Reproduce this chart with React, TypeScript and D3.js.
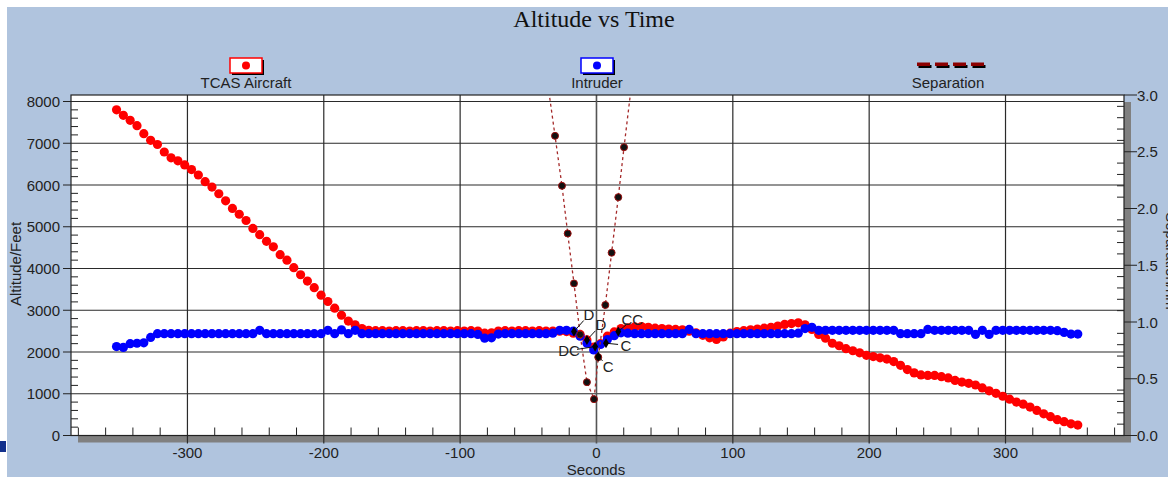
import React from "react";
import * as d3 from "d3";

// sample times (seconds) shared by both altitude tracks
const sampleTimes = [
  -352, -347, -342, -337, -332, -327, -322, -317, -312, -307,
  -302, -297, -292, -287, -282, -277, -272, -267, -262, -257,
  -252, -247, -242, -237, -232, -227, -222, -217, -212, -207,
  -202, -197, -192, -187, -182, -177, -172, -167, -162, -157,
  -152, -147, -142, -137, -132, -127, -122, -117, -112, -107,
  -102, -97, -92, -87, -82, -77, -72, -67, -62, -57,
  -52, -47, -42, -37, -32, -27, -22, -17, -12, -7,
  -2, 3, 8, 13, 18, 23, 28, 33, 38, 43,
  48, 53, 58, 63, 68, 73, 78, 83, 88, 93,
  98, 103, 108, 113, 118, 123, 128, 133, 138, 143,
  148, 153, 158, 163, 168, 173, 178, 183, 188, 193,
  198, 203, 208, 213, 218, 223, 228, 233, 238, 243,
  248, 253, 258, 263, 268, 273, 278, 283, 288, 293,
  298, 303, 308, 313, 318, 323, 328, 333, 338, 343,
  348, 353,
];

const tcasAlt = [
  7800, 7670, 7550, 7420, 7230, 7070, 6970, 6790, 6650, 6580,
  6480, 6370, 6240, 6080, 5950, 5790, 5620, 5440, 5300, 5150,
  4960, 4810, 4650, 4520, 4330, 4200, 4020, 3850, 3700, 3540,
  3360, 3210, 3050, 2880, 2740, 2650, 2560, 2520, 2510, 2510,
  2500, 2510, 2510, 2500, 2510, 2510, 2500, 2510, 2510, 2500,
  2510, 2500, 2510, 2500, 2450, 2460, 2500, 2510, 2500, 2510,
  2510, 2500, 2510, 2500, 2500, 2500, 2490, 2450, 2420, 2290,
  2120, 2200, 2380, 2480, 2560, 2580, 2600, 2610, 2590, 2570,
  2560, 2550, 2540, 2530, 2500, 2460, 2400, 2340, 2300, 2360,
  2450, 2490, 2510, 2530, 2550, 2570, 2590, 2620, 2660, 2680,
  2700, 2650, 2540, 2420, 2330, 2210, 2150, 2080, 2030, 1980,
  1920, 1890, 1860, 1830, 1770, 1680, 1580, 1500, 1450, 1440,
  1440, 1410, 1380, 1320, 1280, 1250, 1210, 1140, 1070, 1010,
  940, 870, 800, 750, 680, 600, 520, 450, 380, 330,
  280, 250,
];

const intruderAlt = [
  2130, 2110, 2200, 2210, 2220, 2350, 2440, 2440, 2440, 2440,
  2440, 2440, 2440, 2440, 2440, 2440, 2440, 2440, 2440, 2440,
  2440, 2520, 2440, 2440, 2440, 2440, 2440, 2440, 2440, 2440,
  2440, 2520, 2440, 2530, 2440, 2520, 2440, 2440, 2440, 2440,
  2440, 2440, 2440, 2440, 2440, 2440, 2440, 2440, 2440, 2440,
  2440, 2440, 2440, 2420, 2330, 2340, 2430, 2440, 2440, 2440,
  2440, 2440, 2440, 2440, 2450, 2520, 2520, 2500, 2380, 2210,
  2050, 2180, 2300, 2390, 2460, 2450, 2440, 2440, 2440, 2440,
  2440, 2440, 2440, 2440, 2540, 2440, 2440, 2440, 2440, 2440,
  2440, 2440, 2440, 2440, 2440, 2440, 2440, 2440, 2440, 2440,
  2450, 2560, 2590, 2520, 2520, 2520, 2520, 2520, 2520, 2520,
  2520, 2520, 2520, 2520, 2520, 2440, 2440, 2440, 2440, 2540,
  2520, 2520, 2520, 2520, 2520, 2520, 2420, 2520, 2420, 2520,
  2520, 2520, 2520, 2520, 2520, 2520, 2520, 2520, 2510, 2470,
  2430, 2430,
];

// horizontal separation (nm), right axis
const sepTimes = [-35.5, -30.4, -25.3, -21.1, -16.5, -12, -7, -1.8, 1.3, 6.5, 11.1, 16, 20.2, 25.2];
const sepValues = [3.08, 2.64, 2.2, 1.78, 1.34, 0.89, 0.47, 0.32, 0.69, 1.15, 1.61, 2.1, 2.54, 3.04];

// D / C markers placed on the tracks
const markTimes = [-16.5, -7, -1, 1.3, 7, 16];
const markAlts = [2490, 2290, 2130, 1890, 2210, 2490];
const markLabels = ["D", "D", "DC", "C", "C", "CC"];

const xTicks = [-300, -200, -100, 0, 100, 200, 300];
const altTicks = [0, 1000, 2000, 3000, 4000, 5000, 6000, 7000, 8000];
const sepTicks = [0, 0.5, 1, 1.5, 2, 2.5, 3];
const legendNames = ["TCAS Aircraft", "Intruder", "Separation"];

const W = 1168;
const H = 477;
const left = 71;
const right = 1124;
const top = 95;
const bottom = 435.5;
const sans = "'Liberation Sans', Arial, sans-serif";
const ink = "#222";

export default function App() {
  const x = d3.scaleLinear().domain([-385.4, 386.9]).range([left, right]);
  const yAlt = d3.scaleLinear().domain([0, 8000]).range([bottom, 101.5]);
  const ySep = d3.scaleLinear().domain([0, 3]).range([bottom, top]);

  const minorX = d3.range(-380, 381, 20).filter((v) => v % 100 !== 0);
  const minorAlt = d3.range(200, 8000, 200).filter((v) => v % 1000 !== 0);
  const minorSep = d3.range(1, 30).filter((v) => v % 5 !== 0).map((v) => v / 10);

  const sepLine = d3
    .line<number>()
    .x((_, i) => x(sepTimes[i]))
    .y((d) => ySep(d));

  // label offsets for the D/C marks
  const labelOff = [
    [15, -17],
    [14, -15],
    [-26, 4],
    [10, 10],
    [20, 2],
    [14, -12],
  ];

  const legendX = [246, 597, 950];
  const dotR = 4.6;

  return (
    <svg
      width={W}
      height={H}
      style={{ position: "absolute", left: 0, top: 0, display: "block" }}
    >
      <defs>
        <clipPath id="plotClip">
          <rect x={left} y={top} width={right - left} height={bottom - top} />
        </clipPath>
      </defs>
      <rect x={0} y={0} width={W} height={H} fill="#fff" />
      <rect x={7} y={7} width={W - 7} height={H - 7} fill="#B0C4DE" />
      <rect x={0} y={441} width={6} height={11} fill="#12308c" />

      <text
        x={594}
        y={27}
        textAnchor="middle"
        fontFamily="'Liberation Serif', 'Times New Roman', serif"
        fontSize={24}
        fill="#111"
      >
        Altitude vs Time
      </text>

      {/* legend */}
      {[0, 1].map((i) => (
        <g key={legendNames[i]}>
          <rect x={legendX[i] - 14} y={60} width={32} height={15} fill="#000" />
          <rect
            x={legendX[i] - 16}
            y={58}
            width={32}
            height={15}
            fill="#fff"
            stroke={i === 0 ? "#ff0000" : "#0000ff"}
            strokeWidth={1.5}
          />
          <circle cx={legendX[i]} cy={65.5} r={4} fill={i === 0 ? "#ff0000" : "#0000ff"} />
        </g>
      ))}
      {[0, 1, 2, 3].map((k) => (
        <g key={k}>
          <rect x={legendX[2] - 33 + k * 18 + 1.5} y={65} width={13} height={3} fill="#000" />
          <rect x={legendX[2] - 33 + k * 18} y={62.5} width={13} height={3.5} fill="#8b0000" />
        </g>
      ))}
      {legendNames.map((name, i) => (
        <text
          key={name}
          x={legendX[i] - (i === 2 ? 2 : 0)}
          y={88}
          textAnchor="middle"
          fontFamily={sans}
          fontSize={15}
          fill={ink}
        >
          {name}
        </text>
      ))}

      {/* plot area */}
      <rect x={left + 7} y={top + 7} width={right - left} height={bottom - top} fill="#808080" />
      <rect x={left} y={top} width={right - left} height={bottom - top} fill="#fff" />

      {altTicks.slice(1).map((v) => (
        <line key={v} x1={left} x2={right} y1={yAlt(v)} y2={yAlt(v)} stroke="#2a2a2a" strokeWidth={1.2} />
      ))}
      {xTicks.map((v) => (
        <line
          key={v}
          x1={x(v)}
          x2={x(v)}
          y1={top}
          y2={bottom + 8}
          stroke={v === 0 ? "#555" : "#2a2a2a"}
          strokeWidth={v === 0 ? 1.6 : 1.2}
        />
      ))}

      {/* minor ticks */}
      {minorX.map((v) => (
        <line key={v} x1={x(v)} x2={x(v)} y1={bottom - 8} y2={bottom} stroke="#222" />
      ))}
      {minorAlt.map((v) => (
        <line key={v} x1={left} x2={left + 7} y1={yAlt(v)} y2={yAlt(v)} stroke="#222" />
      ))}
      {minorSep.map((v) => (
        <line key={v} x1={right - 7} x2={right} y1={ySep(v)} y2={ySep(v)} stroke="#222" />
      ))}

      {/* frame */}
      <rect x={left} y={top} width={right - left} height={bottom - top} fill="none" stroke="#222" strokeWidth={1.2} />

      {/* left axis */}
      {altTicks.map((v) => (
        <g key={v}>
          <line x1={left - 8} x2={left} y1={yAlt(v)} y2={yAlt(v)} stroke="#222" />
          <text x={60} y={yAlt(v) + 5.5} textAnchor="end" fontFamily={sans} fontSize={15} fill={ink}>
            {v}
          </text>
        </g>
      ))}
      <text
        transform="translate(21,264) rotate(-90)"
        textAnchor="middle"
        fontFamily={sans}
        fontSize={15}
        fill={ink}
      >
        Altitude/Feet
      </text>

      {/* right axis */}
      {sepTicks.map((v) => (
        <g key={v}>
          <line x1={right} x2={right + 13} y1={ySep(v)} y2={ySep(v)} stroke="#222" />
          <text x={1137} y={ySep(v) + 5.5} fontFamily={sans} fontSize={15} fill={ink}>
            {d3.format(".1f")(v)}
          </text>
        </g>
      ))}
      <text
        transform="translate(1166,261) rotate(90)"
        textAnchor="middle"
        fontFamily={sans}
        fontSize={15}
        fill={ink}
      >
        Separation/nm
      </text>

      {/* bottom axis */}
      {xTicks.map((v) => (
        <text key={v} x={x(v)} y={458} textAnchor="middle" fontFamily={sans} fontSize={15} fill={ink}>
          {v}
        </text>
      ))}
      <text x={596} y={475} textAnchor="middle" fontFamily={sans} fontSize={15} fill={ink}>
        Seconds
      </text>

      <g clipPath="url(#plotClip)">
        {tcasAlt.map((v, i) => (
          <circle key={"r" + i} cx={x(sampleTimes[i])} cy={yAlt(v)} r={dotR} fill="#ff0000" />
        ))}
        {intruderAlt.map((v, i) => (
          <circle key={"b" + i} cx={x(sampleTimes[i])} cy={yAlt(v)} r={dotR} fill="#0000ff" />
        ))}

        <path
          d={sepLine(sepValues) || ""}
          fill="none"
          stroke="#a52a2a"
          strokeWidth={1.3}
          strokeDasharray="3,3"
        />
        {sepValues.map((v, i) => (
          <circle
            key={"s" + i}
            cx={x(sepTimes[i])}
            cy={ySep(v)}
            r={3.5}
            fill="#111"
            stroke="#9b1010"
            strokeWidth={1}
          />
        ))}

        {markTimes.map((t, i) => {
          const mx = x(t);
          const my = yAlt(markAlts[i]);
          const [dx, dy] = labelOff[i];
          const len = Math.hypot(dx, dy);
          const ex = mx + (dx * (len - 8)) / len;
          const ey = my + (dy * (len - 8)) / len;
          return (
            <g key={"m" + i}>
              <line x1={mx} y1={my} x2={ex} y2={ey} stroke="#111" strokeWidth={1} />
              <path
                d={d3.symbol(d3.symbolDiamond, 30)() || ""}
                transform={`translate(${mx},${my})`}
                fill="#000"
              />
              <text
                x={mx + dx}
                y={my + dy + 5.5}
                textAnchor="middle"
                fontFamily={sans}
                fontSize={15}
                fill={ink}
              >
                {markLabels[i]}
              </text>
            </g>
          );
        })}
      </g>
    </svg>
  );
}
